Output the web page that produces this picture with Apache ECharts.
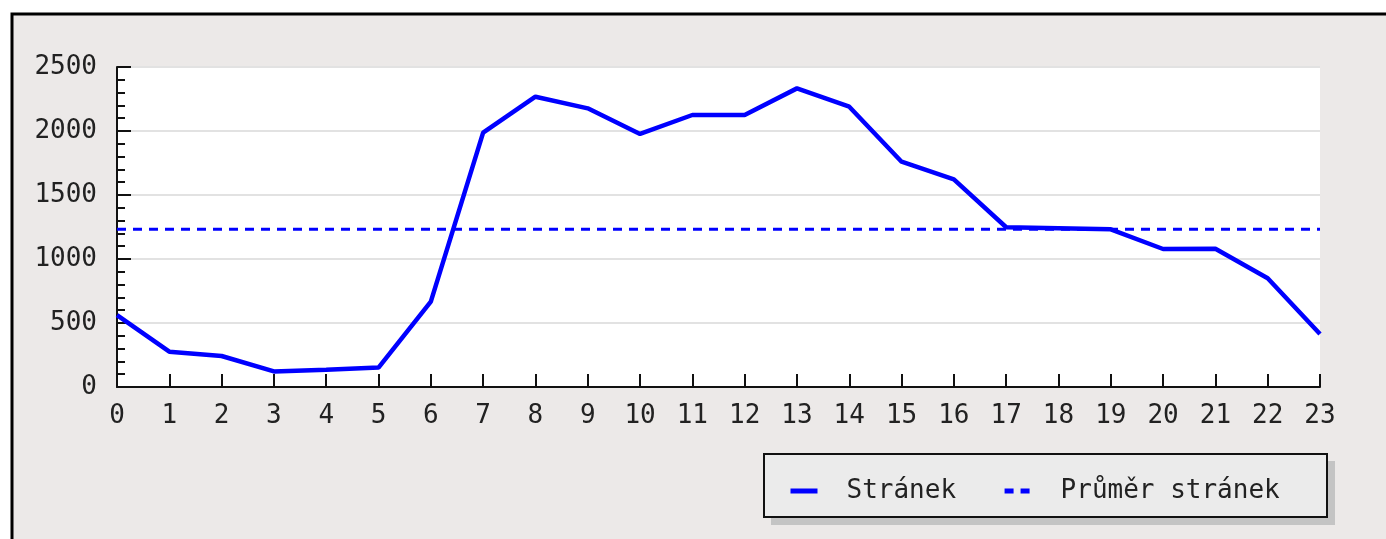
<!DOCTYPE html>
<html>
<head>
<meta charset="utf-8">
<script src="https://cdn.jsdelivr.net/npm/echarts@6/dist/echarts.min.js"></script>
<style>
  html, body { margin: 0; padding: 0; background: #fff; }
  #chart { width: 1386px; height: 539px; }
</style>
</head>
<body>
<div id="chart"></div>
<script>
var hours = ['0','1','2','3','4','5','6','7','8','9','10','11','12','13','14','15','16','17','18','19','20','21','22','23'];
var pages = [562, 276, 242, 122, 135, 152, 667, 1987, 2268, 2177, 1977, 2125, 2125, 2333, 2190, 1760, 1622, 1248, 1240, 1232, 1078, 1080, 849, 414];
// prumer
var pagesAvg = [1232, 1232, 1232, 1232, 1232, 1232, 1232, 1232, 1232, 1232, 1232, 1232, 1232, 1232, 1232, 1232, 1232, 1232, 1232, 1232, 1232, 1232, 1232, 1232];
var seriesNames = ['Stránek', 'Průměr stránek'];

var font = 'DejaVu Sans Mono';
var chart = echarts.init(document.getElementById('chart'));

var option = {
  animation: false,
  textStyle: { fontFamily: font },
  graphic: {
    elements: [
      { // ramecek
        type: 'rect', z: -10, silent: true,
        shape: { x: 12, y: 14, width: 1500, height: 700 },
        style: { fill: '#ece9e8', stroke: '#000', lineWidth: 3 }
      },
      { // stin legendy
        type: 'rect', z: -5, silent: true,
        shape: { x: 771, y: 461, width: 564, height: 64 },
        style: { fill: '#c4c4c4' }
      },
      { // box legendy
        type: 'rect', z: -4, silent: true,
        shape: { x: 764, y: 454, width: 563, height: 63 },
        style: { fill: '#ebebeb', stroke: '#111', lineWidth: 2 }
      }
    ]
  },
  grid: {
    left: 117, right: 66, top: 67, bottom: 152,
    show: true, backgroundColor: '#fff', borderWidth: 0
  },
  legend: {
    data: seriesNames,
    left: 783, top: 473,
    itemWidth: 27, itemHeight: 14, itemGap: 46,
    itemStyle: { color: 'transparent', opacity: 0, borderWidth: 0 },
    lineStyle: { width: 5 },
    textStyle: { fontFamily: font, fontSize: 26, color: '#222', padding: [0, 0, 0, 24] }
  },
  xAxis: {
    type: 'category',
    data: hours,
    boundaryGap: false,
    axisLine: { lineStyle: { color: '#111', width: 2 } },
    axisTick: { inside: true, length: 13, lineStyle: { color: '#111', width: 2 } },
    axisLabel: { fontFamily: font, fontSize: 26, color: '#222', margin: 16 },
    splitLine: { show: false }
  },
  yAxis: {
    type: 'value',
    min: 0, max: 2500, interval: 500,
    axisLine: { show: true, lineStyle: { color: '#111', width: 2 } },
    axisTick: { show: true, inside: true, length: 14, lineStyle: { color: '#111', width: 2 } },
    minorTick: { show: true, splitNumber: 5, length: 8, lineStyle: { color: '#111', width: 2 } },
    axisLabel: {
      fontFamily: font, fontSize: 26, color: '#222', margin: 20,
      formatter: function (v) { return String(v); }
    },
    splitLine: { show: true, lineStyle: { color: '#e2e2e2', width: 2 } }
  },
  series: [
    {
      name: seriesNames[0],
      type: 'line',
      data: pages,
      symbol: 'none',
      color: '#0000ff',
      lineStyle: { color: '#0000ff', width: 4.5 },
      z: 3
    },
    {
      name: seriesNames[1],
      type: 'line',
      data: pagesAvg,
      symbol: 'none',
      color: '#0000ff',
      lineStyle: { color: '#0000ff', width: 3, type: [9, 7] },
      z: 2
    }
  ]
};
chart.setOption(option);
</script>
</body>
</html>
